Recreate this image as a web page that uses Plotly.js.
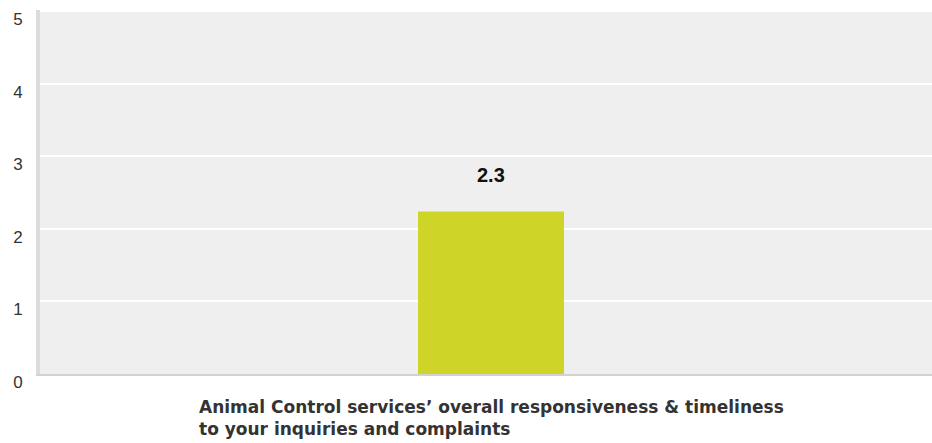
<!DOCTYPE html>
<html>
<head>
<meta charset="utf-8">
<script src="https://cdn.plot.ly/plotly-3.0.1.min.js"></script>
<style>html,body{margin:0;padding:0;background:#fff;}#chart{width:932px;height:443px;}</style>
</head>
<body>
<div id="chart"></div>
<script>
var categories = ["Animal Control services’ overall responsiveness & timeliness<br>to your inquiries and complaints"];
var values = [2.24];
var valueLabels = ["2.3"];
var yTicks = [0, 1, 2, 3, 4, 5];

var trace = {
  type: 'bar',
  x: categories,
  y: values,
  width: 0.1637,
  marker: {color: '#cfd528'},
  hoverinfo: 'none'
};

var annotations = [];
for (var i = 0; i < categories.length; i++) {
  annotations.push({
    x: categories[i], y: values[i], xref: 'x', yref: 'y',
    text: '<b>' + valueLabels[i] + '</b>', showarrow: false,
    yanchor: 'bottom', yshift: 24,
    font: {family: 'Liberation Sans, Arial, sans-serif', size: 20, color: '#111'}
  });
  annotations.push({
    x: categories[i], y: 0, xref: 'x', yref: 'paper',
    text: '<b>' + categories[i] + '</b>', showarrow: false,
    yanchor: 'top', yshift: -21, align: 'left', xanchor: 'center',
    font: {family: 'DejaVu Sans, sans-serif', size: 17, color: '#333'}
  });
}

var layout = {
  width: 932, height: 443,
  margin: {l: 40, r: 0, t: 10, b: 69},
  paper_bgcolor: '#ffffff',
  plot_bgcolor: '#efefef',
  showlegend: false,
  xaxis: {
    range: [-0.5056, 0.4944],
    showticklabels: false,
    ticks: '',
    showgrid: false,
    zeroline: false,
    showline: true, linecolor: '#d2d2d2', linewidth: 2,
    fixedrange: true
  },
  yaxis: {
    range: [0, 5.02],
    tickvals: yTicks,
    ticktext: yTicks.map(String),
    ticks: '',
    showgrid: true, gridcolor: '#ffffff', gridwidth: 2,
    zeroline: false,
    showline: true, linecolor: '#dcdcdc', linewidth: 4,
    ticklabelshift: 8,
    ticklabelstandoff: 10,
    tickfont: {family: 'Liberation Sans, Arial, sans-serif', size: 17, color: '#333'},
    fixedrange: true
  },
  annotations: annotations
};

Plotly.newPlot('chart', [trace], layout, {displayModeBar: false, staticPlot: true});
</script>
</body>
</html>
